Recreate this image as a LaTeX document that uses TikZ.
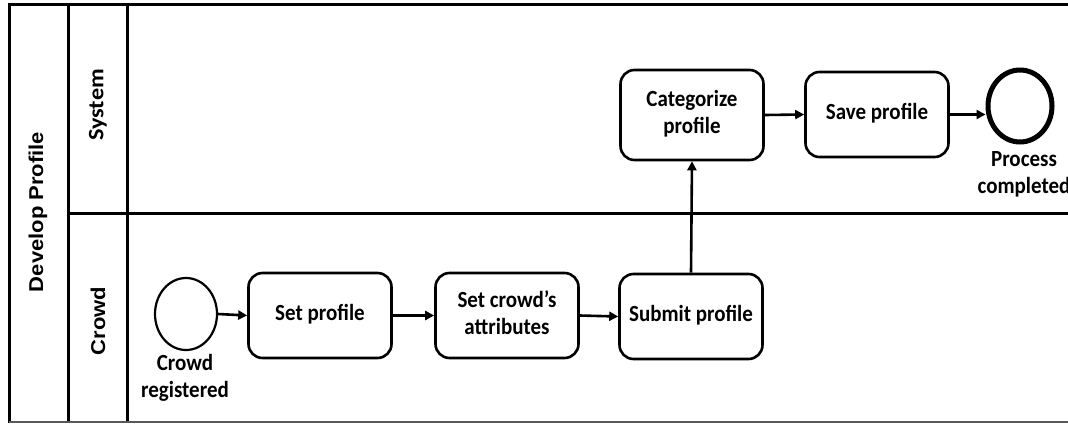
\documentclass[tikz,border=0pt]{standalone}
\usepackage{fontspec}
\setmainfont{Carlito}
\newfontfamily\arialish{Liberation Sans}
\usetikzlibrary{arrows.meta,shapes.geometric}
% text set slightly tall, one or more centred lines
\newcommand\tall[1]{\scalebox{1}[1.1]{\begin{tabular}{@{}c@{}}#1\end{tabular}}}
% rotated titles, stretched along the line of text
\newcommand\longer[1]{\scalebox{1.1}[1]{#1}}
\begin{document}
\begin{tikzpicture}[x=1pt,y=-1pt,
  font=\bfseries\fontsize{21}{24.5}\selectfont,
  task/.style={draw, line width=2.6pt, rounded corners=14pt, minimum width=143pt,
    minimum height=85pt, inner sep=2pt},
  evt/.style={draw, ellipse, minimum width=62pt, minimum height=72pt, inner sep=0pt},
  flow/.style={line width=2.6pt, -{Triangle[length=9pt,width=9pt]}},
  frame/.style={line width=3pt},
  lbl/.style={inner sep=0pt},
  sanslbl/.style={lbl, font=\arialish\bfseries\fontsize{20}{23}\selectfont},
]
\useasboundingbox (0,0) rectangle (1068,423);

% pool and lane borders
\draw[frame] (1068,4) -- (9,4) -- (9,423);
\draw[frame] (68,4) -- (68,423);
\draw[frame] (127,4) -- (127,423);
\draw[frame] (68,213) -- (1068,213);
\draw[line width=2pt, black!65] (9,422) -- (1068,422);

% pool and lane titles
\node[rotate=90, sanslbl] (pool) at (38,212) {\longer{Develop Profile}};
\node[rotate=90, lbl, font=\bfseries\fontsize{22}{25}\selectfont] (lsys) at (98,105) {\longer{System}};
\node[rotate=90, sanslbl] (lcrowd) at (98,321) {\longer{Crowd}};

% events
\node[evt, line width=2.2pt] (start) at (186,314) {};
\node[lbl] (startlbl) at (185,379) {\tall{Crowd\\registered}};
\node[evt, line width=5pt, minimum width=64pt] (end) at (1020,106) {};
\node[lbl] (endlbl) at (1024,175) {\tall{Process\\completed}};

% tasks
\node[task] (setp) at (320,315.5) {\tall{Set profile}};
\node[task] (attr) at (507,315.5) {\tall{Set crowd’s\\attributes}};
\node[task] (subm) at (691,316.5) {\tall{Submit profile}};
\node[task, minimum height=90pt] (cat) at (692,115) {\tall{Categorize\\profile}};
\node[task] (save) at (877,114.5) {\tall{Save profile}};

% sequence flows
\draw[flow] (start.east) -- (setp.west);
\draw[flow] (setp.east) -- (attr.west);
\draw[flow] (attr.east) -- (subm.west);
\draw[flow] (subm.north) -- (cat.south);
\draw[flow] (cat.east) -- (save.west);
\draw[flow] (save.east) -- (end.west |- save.east);
\end{tikzpicture}
\end{document}
